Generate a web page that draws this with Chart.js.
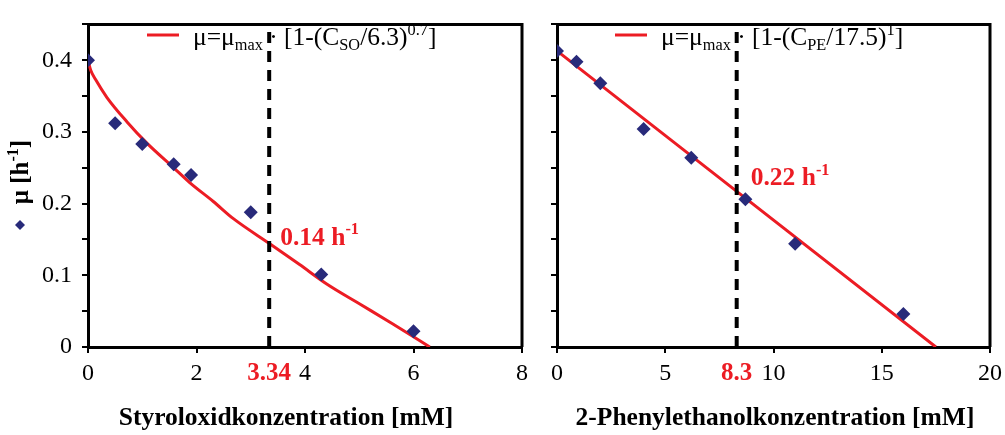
<!DOCTYPE html>
<html>
<head>
<meta charset="utf-8">
<script src="https://cdn.jsdelivr.net/npm/chart.js@4.4.1/dist/chart.umd.min.js"></script>
<style>
    body { margin: 0; background: #fff; }
    #wrap { position: relative; width: 1005px; height: 435px; overflow: hidden; }
    canvas { position: absolute; top: 0; }
    #soChart { left: 0; }
    #peChart { left: 525px; }
</style>
</head>
<body>
<div id="wrap">
    <canvas id="soChart" width="540" height="435"></canvas>
    <canvas id="peChart" width="480" height="435"></canvas>
</div>
<script>
// Styroloxid: measured growth rates
const soConc = [0, 0.5, 1.0, 1.58, 1.9, 3.0, 4.3, 6.0];
const soMu = [0.400, 0.312, 0.283, 0.255, 0.240, 0.188, 0.101, 0.022];
// Styroloxid: fitted curve
const soFitConc = [0, 0.05, 0.14, 0.35, 0.72, 1.09, 1.58, 1.88, 2.31, 2.68, 3.37, 3.9, 4.4, 5.01, 5.62, 6.3];
const soFitMu = [0.400, 0.386, 0.373, 0.348, 0.314, 0.284, 0.250, 0.229, 0.203, 0.179, 0.143, 0.115, 0.088, 0.060, 0.032, 0];
const soCrit = 3.34;
const soCritMu = 0.14;
const soTicksX = [0, 2, 4, 6, 8];

// 2-Phenylethanol: measured growth rates
const peConc = [0, 0.9, 2.0, 4.0, 6.2, 8.7, 11.0, 16.0];
const peMu = [0.413, 0.398, 0.368, 0.304, 0.264, 0.206, 0.144, 0.046];
// 2-Phenylethanol: fitted line
const peFitConc = [0, 17.5];
const peFitMu = [0.413, 0];
const peCrit = 8.3;
const peCritMu = 0.22;
const peTicksX = [0, 5, 10, 15, 20];

const yTicksMajor = [0, 0.1, 0.2, 0.3, 0.4];

const RED = '#ec1c24';
const NAVY = '#282a7a';
const SERIF = '"Liberation Serif", "Times New Roman", serif';

function pts(xs, ys) {
    return xs.map((x, i) => ({x: x, y: ys[i]}));
}

// draw text with sub/superscript parts: [[text, 'sub'|'sup'|''], ...]
function richText(ctx, x, y, parts, size, weight, align) {
    const fontOf = (p) => {
        const s = p[1] ? size * 0.64 : size;
        return weight + ' ' + s + 'px ' + SERIF;
    };
    let w = 0;
    parts.forEach(p => { ctx.font = fontOf(p); w += ctx.measureText(p[0]).width; });
    let cx = align === 'center' ? x - w / 2 : x;
    ctx.textAlign = 'left';
    ctx.textBaseline = 'alphabetic';
    parts.forEach(p => {
        ctx.font = fontOf(p);
        let dy = 0;
        if (p[1] === 'sub') dy = size * 0.2;
        if (p[1] === 'sup') dy = -size * 0.4;
        ctx.fillText(p[0], cx, y + dy);
        cx += ctx.measureText(p[0]).width;
    });
    return w;
}

function decorPlugin(opts) {
    return {
        id: 'decor',
        beforeDatasetsDraw(chart) {
            const ctx = chart.ctx;
            ctx.save();
            // legend
            ctx.strokeStyle = RED;
            ctx.lineWidth = 3;
            ctx.beginPath();
            ctx.moveTo(opts.legendX, 35);
            ctx.lineTo(opts.legendX + 32, 35);
            ctx.stroke();
            ctx.fillStyle = '#000';
            richText(ctx, opts.legendX + 46, 45, opts.legendParts, 25.5, 'normal', 'left');
            ctx.restore();
        },
        afterDatasetsDraw(chart) {
            const ctx = chart.ctx;
            const a = chart.chartArea;
            const xs = chart.scales.x, ys = chart.scales.y;
            ctx.save();
            // frame top and right
            ctx.strokeStyle = '#000';
            ctx.lineWidth = 3;
            ctx.beginPath();
            ctx.moveTo(a.left, a.top);
            ctx.lineTo(a.right, a.top);
            ctx.lineTo(a.right, a.bottom);
            ctx.stroke();
            // critical value label
            ctx.fillStyle = RED;
            richText(ctx, xs.getPixelForValue(opts.crit) + opts.critDx, ys.getPixelForValue(opts.critMu) + opts.critDy,
                [[opts.critMu.toFixed(2) + ' h', ''], ['-1', 'sup']], 25.5, 'bold', 'left');
            // x axis title
            ctx.fillStyle = '#000';
            ctx.font = 'bold 25.5px ' + SERIF;
            ctx.textAlign = 'center';
            ctx.textBaseline = 'alphabetic';
            ctx.fillText(opts.xTitle, opts.xTitleX, 425);
            if (opts.yTitle) {
                ctx.save();
                ctx.translate(28, 172);
                ctx.rotate(-Math.PI / 2);
                ctx.fillStyle = '#000';
                richText(ctx, 0, 0, [['\u03bc [h', ''], ['-1', 'sup'], [']', '']], 25, 'bold', 'center');
                ctx.restore();
                // marker symbol of the series
                ctx.fillStyle = NAVY;
                ctx.beginPath();
                ctx.moveTo(20, 220);
                ctx.lineTo(25, 225);
                ctx.lineTo(20, 230);
                ctx.lineTo(15, 225);
                ctx.closePath();
                ctx.fill();
            }
            ctx.restore();
        }
    };
}

function makeChart(id, o) {
    const ticksX = o.ticksX.concat([o.crit]).sort((p, q) => p - q);
    return new Chart(document.getElementById(id), {
        type: 'scatter',
        data: {
            datasets: [
                {
                    data: pts(o.conc, o.mu),
                    pointStyle: 'rectRot',
                    pointRadius: 7,
                    backgroundColor: NAVY,
                    borderColor: NAVY,
                    borderWidth: 0,
                    order: 0
                },
                {
                    data: [{x: o.crit, y: 0}, {x: o.crit, y: 0.45}],
                    showLine: true,
                    borderColor: '#000',
                    borderWidth: 4,
                    borderDash: [11, 8],
                    pointRadius: 0,
                    order: 1
                },
                {
                    data: pts(o.fitConc, o.fitMu),
                    showLine: true,
                    cubicInterpolationMode: 'monotone',
                    borderColor: RED,
                    borderWidth: 3,
                    pointRadius: 0,
                    order: 2
                }
            ]
        },
        options: {
            responsive: false,
            animation: false,
            events: [],
            layout: {padding: {left: 0, right: o.padRight, top: 10, bottom: 0}},
            plugins: {legend: {display: false}, tooltip: {enabled: false}},
            scales: {
                x: {
                    type: 'linear',
                    min: o.ticksX[0],
                    max: o.ticksX[o.ticksX.length - 1],
                    afterBuildTicks: s => { s.ticks = ticksX.map(v => ({value: v})); },
                    afterFit: s => { s.height = 88; s.paddingLeft = 0; s.paddingRight = 0; },
                    border: {display: true, color: '#000', width: 3},
                    grid: {
                        drawOnChartArea: false,
                        tickLength: 6,
                        lineWidth: 2,
                        color: c => (c.tick && c.tick.value === o.crit) ? 'rgba(0,0,0,0)' : '#000'
                    },
                    ticks: {
                        autoSkip: false,
                        maxRotation: 0,
                        padding: 6,
                        callback: v => String(v),
                        color: c => (c.tick && c.tick.value === o.crit) ? RED : '#000',
                        font: c => ({
                            family: SERIF,
                            size: (c.tick && c.tick.value === o.crit) ? 25 : 24,
                            weight: (c.tick && c.tick.value === o.crit) ? 'bold' : 'normal'
                        })
                    }
                },
                y: {
                    type: 'linear',
                    min: 0,
                    max: 0.45,
                    afterFit: s => { s.width = o.yWidth; },
                    border: {display: true, color: '#000', width: 3},
                    grid: {drawOnChartArea: false, tickLength: 6, lineWidth: 2, color: '#000'},
                    ticks: {
                        stepSize: 0.05,
                        padding: 10,
                        color: '#000',
                        font: {family: SERIF, size: 24},
                        callback: v => {
                            if (!o.yLabels) return '';
                            const m = yTicksMajor.find(t => Math.abs(t - v) < 1e-6);
                            return m === undefined ? '' : String(m);
                        }
                    }
                }
            }
        },
        plugins: [decorPlugin(o)]
    });
}

window.onload = function () {
    makeChart('soChart', {
        conc: soConc, mu: soMu, fitConc: soFitConc, fitMu: soFitMu,
        crit: soCrit, critMu: soCritMu, ticksX: soTicksX,
        padRight: 18, yWidth: 88, yLabels: true, yTitle: true,
        critDx: 11, critDy: -2,
        legendX: 147,
        legendParts: [['\u03bc=\u03bc', ''], ['max', 'sub'], [' \u00b7 [1-(C', ''], ['SO', 'sub'],
            ['/6.3)', ''], ['0.7', 'sup'], [']', '']],
        xTitle: 'Styroloxidkonzentration [mM]', xTitleX: 286
    });
    makeChart('peChart', {
        conc: peConc, mu: peMu, fitConc: peFitConc, fitMu: peFitMu,
        crit: peCrit, critMu: peCritMu, ticksX: peTicksX,
        padRight: 15, yWidth: 32, yLabels: false, yTitle: false,
        critDx: 14, critDy: -4,
        legendX: 615 - 525,
        legendParts: [['\u03bc=\u03bc', ''], ['max', 'sub'], [' \u00b7 [1-(C', ''], ['PE', 'sub'],
            ['/17.5)', ''], ['1', 'sup'], [']', '']],
        xTitle: '2-Phenylethanolkonzentration [mM]', xTitleX: 775 - 525
    });
};
</script>
</body>
</html>
